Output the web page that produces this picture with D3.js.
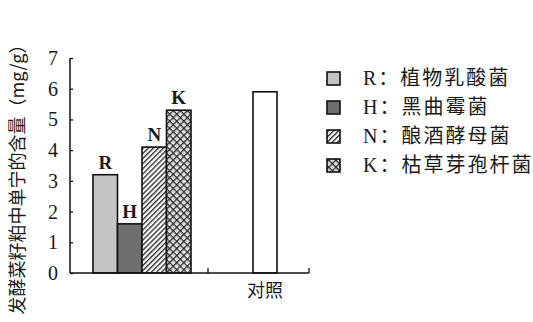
<!DOCTYPE html>
<html><head><meta charset="utf-8">
<script src="https://cdn.jsdelivr.net/npm/d3@7"></script>
<style>body{margin:0;background:#fff;} svg{display:block;}</style>
</head><body>
<svg id="c" width="533" height="322"></svg>
<script>
const categories = ["R","H","N","K"];
const values = [3.2, 1.6, 4.1, 5.3];
const controlLabel = "对照";
const controlValue = 5.9;
const yTicks = [0,1,2,3,4,5,6,7];
const legendLabels = ["R：植物乳酸菌","H：黑曲霉菌","N：酿酒酵母菌","K：枯草芽孢杆菌"];
const yTitle = "发酵菜籽粕中单宁的含量（mg/g）";

const svg = d3.select("#c");
const serif = "'Liberation Serif','Noto Sans CJK SC',serif";
const cjk = "'Noto Sans CJK SC','Liberation Serif',serif";

const defs = svg.append("defs");
const pN = defs.append("pattern").attr("id","pN").attr("patternUnits","userSpaceOnUse")
  .attr("width",3.6).attr("height",3.6).attr("patternTransform","rotate(45)");
pN.append("rect").attr("width",3.6).attr("height",3.6).attr("fill","#fff");
pN.append("rect").attr("width",1.4).attr("height",3.6).attr("fill","#333");
const pK = defs.append("pattern").attr("id","pK").attr("patternUnits","userSpaceOnUse")
  .attr("width",5).attr("height",5).attr("patternTransform","rotate(45)");
pK.append("rect").attr("width",5).attr("height",5).attr("fill","#fff");
pK.append("rect").attr("width",1.4).attr("height",5).attr("fill","#2a2a2a");
pK.append("rect").attr("width",5).attr("height",1.4).attr("fill","#2a2a2a");
pK.append("circle").attr("cx",3.2).attr("cy",3.2).attr("r",0.9).attr("fill","#bbb");

const fills = {R:"#c4c4c4", H:"#6f6f6f", N:"url(#pN)", K:"url(#pK)"};

const y = d3.scaleLinear().domain([0,7]).range([273,58]);
const x = d3.scaleBand().domain(categories).range([93,191]).padding(0);
const xc = d3.scaleBand().domain([controlLabel]).range([253,277]);

svg.selectAll("rect.bar").data(categories).enter().append("rect")
  .attr("x", d=>x(d)).attr("width", x.bandwidth())
  .attr("y", (d,i)=>y(values[i])).attr("height",(d,i)=>y(0)-y(values[i]))
  .attr("fill", d=>fills[d]).attr("stroke","#111").attr("stroke-width",1.6);
svg.append("rect").attr("x",xc(controlLabel)).attr("width",xc.bandwidth())
  .attr("y",y(controlValue)).attr("height",y(0)-y(controlValue))
  .attr("fill","#fff").attr("stroke","#111").attr("stroke-width",1.6);

svg.selectAll("text.bl").data(categories).enter().append("text")
  .attr("x", d=>x(d)+x.bandwidth()/2).attr("y",(d,i)=>y(values[i])-6)
  .attr("text-anchor","middle").attr("font-family",serif).attr("font-weight","bold")
  .attr("font-size",19).attr("fill","#1a1a1a").text(d=>d);

const yAxis = d3.axisRight(y).tickValues(yTicks).tickSize(3).tickFormat("");
const ga = svg.append("g").attr("transform","translate(70,0)").call(yAxis);
ga.select(".domain").attr("stroke","#111").attr("stroke-width",1.5).attr("d","M0,58V273");
ga.selectAll(".tick line").attr("stroke","#111").attr("stroke-width",1.3);
svg.selectAll("text.yt").data(yTicks).enter().append("text")
  .attr("x",53).attr("y",d=>y(d)+7).attr("text-anchor","middle")
  .attr("font-family",serif).attr("font-size",20).attr("fill","#1a1a1a").text(d=>d);

svg.append("line").attr("x1",70).attr("x2",309).attr("y1",273).attr("y2",273)
  .attr("stroke","#111").attr("stroke-width",1.5);
[208,309].forEach(t=>svg.append("line").attr("x1",t).attr("x2",t).attr("y1",273).attr("y2",268)
  .attr("stroke","#111").attr("stroke-width",1.3));
svg.append("text").attr("x",xc(controlLabel)+xc.bandwidth()/2).attr("y",297)
  .attr("text-anchor","middle").attr("font-family",cjk).attr("font-size",18).attr("fill","#1a1a1a")
  .text(controlLabel);

svg.append("text").attr("transform","translate(24,175) rotate(-90)")
  .attr("text-anchor","middle").attr("font-family",cjk).attr("font-size",18).attr("fill","#1a1a1a")
  .text(yTitle);

const leg = svg.append("g");
categories.forEach((k,i)=>{
  const yy = 72 + i*29;
  leg.append("rect").attr("x",327).attr("y",yy).attr("width",13).attr("height",13)
    .attr("fill",fills[k]).attr("stroke","#111").attr("stroke-width",1.6);
  leg.append("text").attr("x",363).attr("y",yy+13).attr("font-family",serif)
    .attr("font-size",20).attr("letter-spacing",2).attr("fill","#1a1a1a").text(legendLabels[i]);
});
</script>
</body></html>
